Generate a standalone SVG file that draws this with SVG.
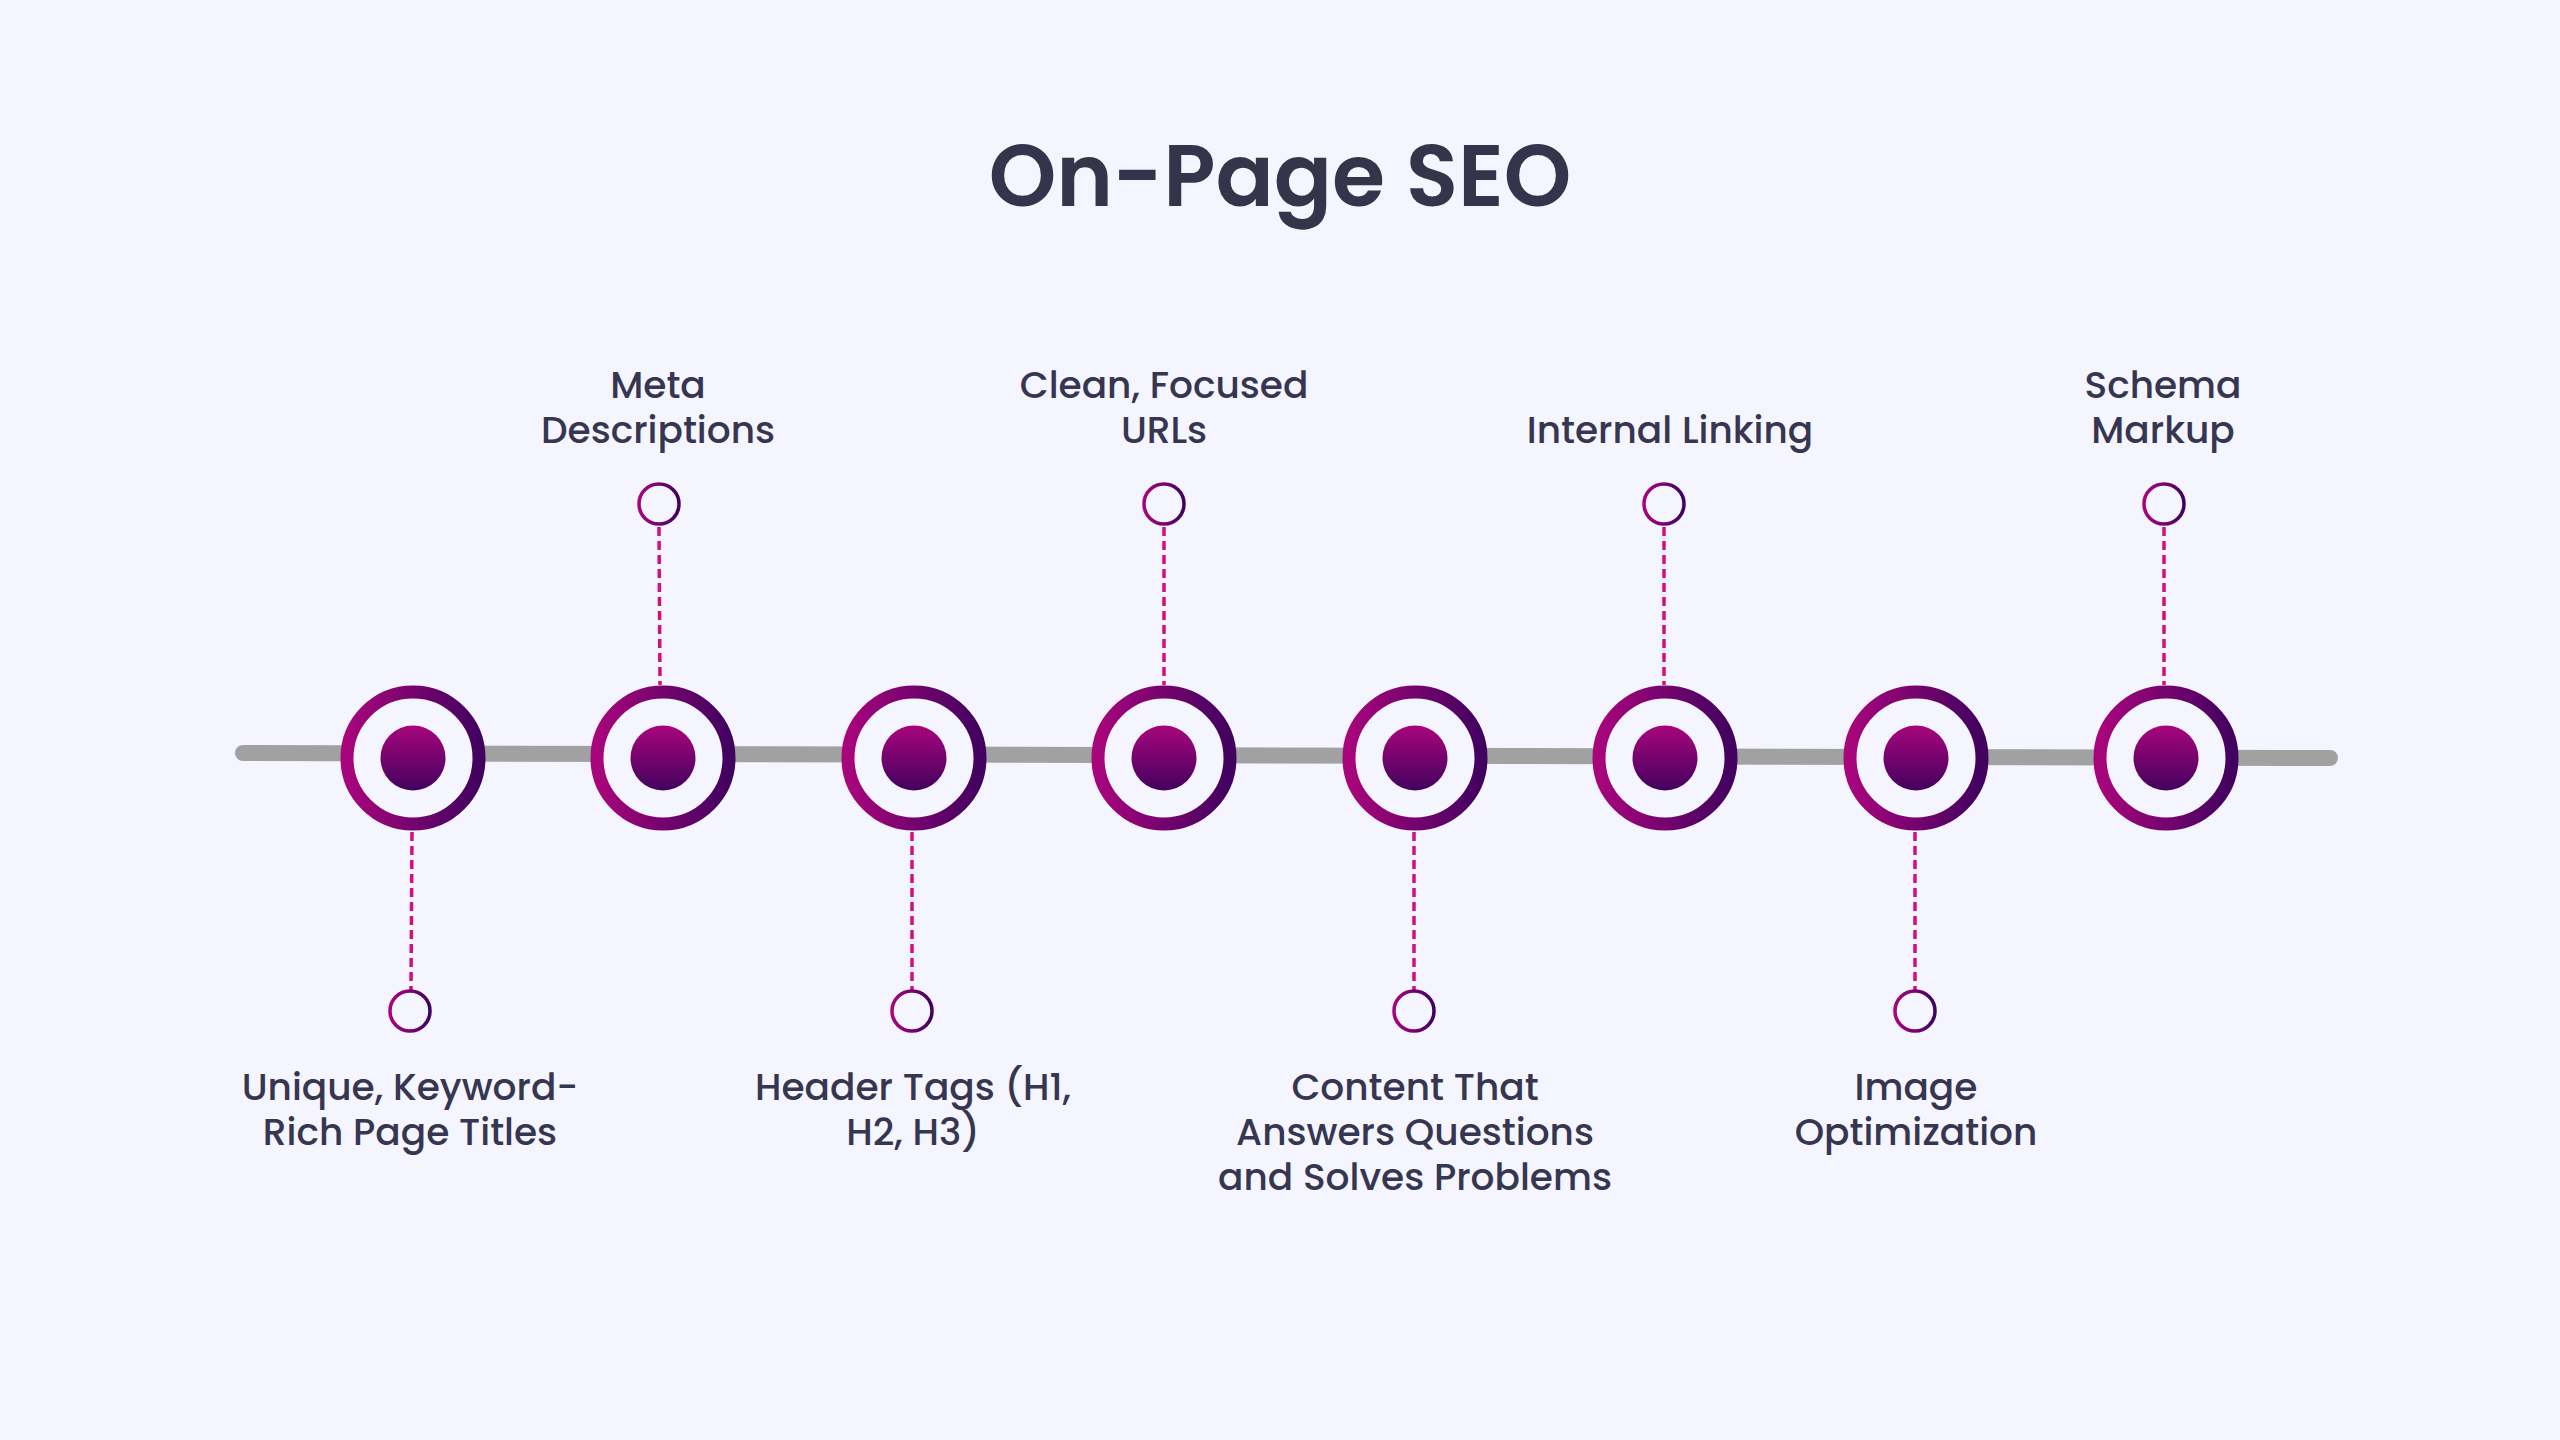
<svg xmlns="http://www.w3.org/2000/svg" width="2560" height="1440" viewBox="0 0 2560 1440">
<defs>
<linearGradient id="gh" x1="0" y1="0" x2="1" y2="0"><stop offset="0" stop-color="#a8057c"/><stop offset="1" stop-color="#42025f"/></linearGradient>
<linearGradient id="gv" x1="0" y1="0" x2="0" y2="1"><stop offset="0" stop-color="#a8057c"/><stop offset="1" stop-color="#42025f"/></linearGradient>
<style>
.t{font-family:Poppins,"Noto Sans","Liberation Sans",sans-serif;font-size:37.5px;fill:#363650;text-anchor:middle;font-weight:500}
.ring{fill:#f4f5fe;stroke:url(#gh);stroke-width:13}
.dot{fill:url(#gv)}
.sm{fill:#f4f5fe;stroke:url(#gh);stroke-width:3.5}
.dash{stroke:#d0107f;stroke-width:3.5;stroke-dasharray:9 5}
</style>
</defs>
<rect width="2560" height="1440" fill="#f4f5fe"/>
<text x="1280" y="206" font-family="Poppins,'Noto Sans','Liberation Sans',sans-serif" font-size="86" font-weight="600" fill="#34344a" text-anchor="middle">On-Page SEO</text>
<g id="connectors">
<line x1="243" y1="753" x2="2330" y2="758" stroke="#a1a1a1" stroke-width="16" stroke-linecap="round"/>
<line class="dash" x1="412" y1="832" x2="411" y2="990"/>
<line class="dash" x1="659" y1="527" x2="660" y2="685"/>
<line class="dash" x1="912" y1="832" x2="912" y2="990"/>
<line class="dash" x1="1164" y1="527" x2="1164" y2="685"/>
<line class="dash" x1="1414" y1="832" x2="1414" y2="990"/>
<line class="dash" x1="1664" y1="527" x2="1664" y2="685"/>
<line class="dash" x1="1915" y1="832" x2="1915" y2="990"/>
<line class="dash" x1="2164" y1="527" x2="2164" y2="685"/>
</g>
<g id="n1"><circle class="ring" cx="413" cy="758" r="66"/><circle class="dot" cx="413" cy="758" r="32.5"/><circle class="sm" cx="410" cy="1011" r="20"/><text class="t" x="410" y="1100">Unique, Keyword-</text><text class="t" x="410" y="1145">Rich Page Titles</text></g>
<g id="n2"><circle class="ring" cx="663" cy="758" r="66"/><circle class="dot" cx="663" cy="758" r="32.5"/><circle class="sm" cx="659" cy="504" r="20"/><text class="t" x="658" y="398">Meta</text><text class="t" x="658" y="443">Descriptions</text></g>
<g id="n3"><circle class="ring" cx="914" cy="758" r="66"/><circle class="dot" cx="914" cy="758" r="32.5"/><circle class="sm" cx="912" cy="1011" r="20"/><text class="t" x="913" y="1100">Header Tags (H1,</text><text class="t" x="913" y="1145">H2, H3)</text></g>
<g id="n4"><circle class="ring" cx="1164" cy="758" r="66"/><circle class="dot" cx="1164" cy="758" r="32.5"/><circle class="sm" cx="1164" cy="504" r="20"/><text class="t" x="1164" y="398">Clean, Focused</text><text class="t" x="1164" y="443">URLs</text></g>
<g id="n5"><circle class="ring" cx="1415" cy="758" r="66"/><circle class="dot" cx="1415" cy="758" r="32.5"/><circle class="sm" cx="1414" cy="1011" r="20"/><text class="t" x="1415" y="1100">Content That</text><text class="t" x="1415" y="1145">Answers Questions</text><text class="t" x="1415" y="1190">and Solves Problems</text></g>
<g id="n6"><circle class="ring" cx="1665" cy="758" r="66"/><circle class="dot" cx="1665" cy="758" r="32.5"/><circle class="sm" cx="1664" cy="504" r="20"/><text class="t" x="1670" y="443">Internal Linking</text></g>
<g id="n7"><circle class="ring" cx="1916" cy="758" r="66"/><circle class="dot" cx="1916" cy="758" r="32.5"/><circle class="sm" cx="1915" cy="1011" r="20"/><text class="t" x="1916" y="1100">Image</text><text class="t" x="1916" y="1145">Optimization</text></g>
<g id="n8"><circle class="ring" cx="2166" cy="758" r="66"/><circle class="dot" cx="2166" cy="758" r="32.5"/><circle class="sm" cx="2164" cy="504" r="20"/><text class="t" x="2163" y="398">Schema</text><text class="t" x="2163" y="443">Markup</text></g>
</svg>
